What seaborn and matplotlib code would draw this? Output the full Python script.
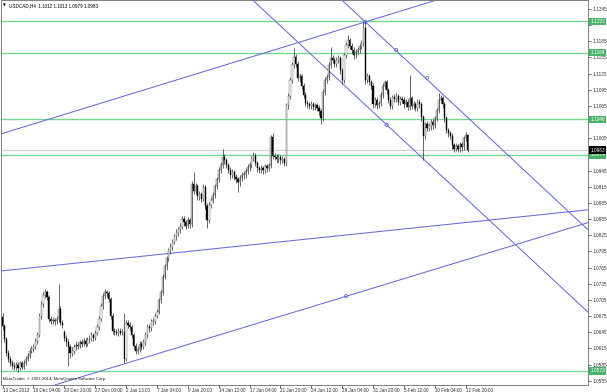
import matplotlib
matplotlib.use("Agg")
import matplotlib.pyplot as plt
from matplotlib.transforms import blended_transform_factory
import seaborn as sns
import pandas as pd

# ---------------- data (USDCAD, H4) ----------------
opens = [
    1.0674, 1.0657, 1.0633, 1.0607, 1.0596, 1.0588, 1.0583, 1.0581, 1.0585, 1.0579,
    1.0587, 1.0581, 1.0588, 1.0596, 1.0601, 1.0611, 1.0614, 1.0618, 1.0629, 1.0640,
    1.0676, 1.0698, 1.0715, 1.0720, 1.0711, 1.0670, 1.0666, 1.0668, 1.0665, 1.0670,
    1.0689, 1.0663, 1.0645, 1.0635, 1.0627, 1.0618, 1.0607, 1.0611, 1.0618, 1.0622,
    1.0620, 1.0626, 1.0624, 1.0629, 1.0624, 1.0631, 1.0633, 1.0639, 1.0635, 1.0644,
    1.0655, 1.0670, 1.0694, 1.0713, 1.0720, 1.0717, 1.0707, 1.0676, 1.0648, 1.0646,
    1.0644, 1.0648, 1.0644, 1.0646, 1.0596, 1.0663, 1.0659, 1.0655, 1.0639, 1.0620,
    1.0611, 1.0614, 1.0624, 1.0618, 1.0627, 1.0640, 1.0655, 1.0652, 1.0665, 1.0666,
    1.0676, 1.0683, 1.0704, 1.0719, 1.0748, 1.0767, 1.0782, 1.0797, 1.0804, 1.0813,
    1.0823, 1.0830, 1.0836, 1.0841, 1.0856, 1.0849, 1.0843, 1.0853, 1.0845, 1.0921,
    1.0908, 1.0916, 1.0897, 1.0901, 1.0893, 1.0914, 1.0880, 1.0853, 1.0882, 1.0890,
    1.0899, 1.0916, 1.0929, 1.0946, 1.0955, 1.0970, 1.0964, 1.0955, 1.0946, 1.0936,
    1.0942, 1.0934, 1.0929, 1.0923, 1.0931, 1.0936, 1.0938, 1.0944, 1.0951, 1.0955,
    1.0968, 1.0973, 1.0959, 1.0949, 1.0946, 1.0949, 1.0946, 1.0953, 1.0949, 1.0955,
    1.1007, 1.0972, 1.0970, 1.0966, 1.0970, 1.0964, 1.0966, 1.0959, 1.1066, 1.1083,
    1.1113, 1.1141, 1.1156, 1.1143, 1.1117, 1.1120, 1.1102, 1.1085, 1.1070, 1.1068,
    1.1065, 1.1068, 1.1063, 1.1066, 1.1061, 1.1055, 1.1042, 1.1091, 1.1113, 1.1118,
    1.1141, 1.1154, 1.1150, 1.1143, 1.1150, 1.1154, 1.1131, 1.1113, 1.1159, 1.1178,
    1.1187, 1.1176, 1.1169, 1.1159, 1.1165, 1.1169, 1.1176, 1.1182, 1.1210, 1.1113,
    1.1120, 1.1109, 1.1102, 1.1068, 1.1076, 1.1066, 1.1070, 1.1085, 1.1102, 1.1109,
    1.1094, 1.1076, 1.1065, 1.1081, 1.1078, 1.1083, 1.1072, 1.1078, 1.1076, 1.1068,
    1.1072, 1.1063, 1.1079, 1.1065, 1.1068, 1.1061, 1.1072, 1.1068, 1.1044, 1.1009,
    1.1031, 1.1024, 1.1027, 1.1035, 1.1029, 1.1042, 1.1057, 1.1076, 1.1079, 1.1068,
    1.1042, 1.1020, 1.1014, 1.1009, 1.0992, 1.0986, 1.0990, 1.0985, 1.0994, 1.0988,
    1.1005, 1.1012,
]
closes = [
    1.0657, 1.0633, 1.0607, 1.0596, 1.0588, 1.0583, 1.0581, 1.0585, 1.0579, 1.0587,
    1.0581, 1.0588, 1.0596, 1.0601, 1.0611, 1.0614, 1.0618, 1.0629, 1.0640, 1.0676,
    1.0698, 1.0715, 1.0720, 1.0711, 1.0670, 1.0666, 1.0668, 1.0665, 1.0670, 1.0689,
    1.0663, 1.0659, 1.0635, 1.0627, 1.0618, 1.0607, 1.0611, 1.0618, 1.0622, 1.0620,
    1.0626, 1.0624, 1.0629, 1.0624, 1.0631, 1.0633, 1.0639, 1.0635, 1.0644, 1.0655,
    1.0670, 1.0694, 1.0713, 1.0720, 1.0717, 1.0707, 1.0676, 1.0648, 1.0646, 1.0644,
    1.0648, 1.0644, 1.0646, 1.0596, 1.0663, 1.0659, 1.0655, 1.0639, 1.0620, 1.0611,
    1.0614, 1.0624, 1.0618, 1.0627, 1.0640, 1.0655, 1.0652, 1.0665, 1.0666, 1.0676,
    1.0683, 1.0704, 1.0719, 1.0748, 1.0767, 1.0782, 1.0797, 1.0804, 1.0813, 1.0823,
    1.0830, 1.0836, 1.0841, 1.0856, 1.0849, 1.0843, 1.0853, 1.0845, 1.0921, 1.0908,
    1.0916, 1.0897, 1.0901, 1.0893, 1.0914, 1.0880, 1.0853, 1.0882, 1.0890, 1.0899,
    1.0916, 1.0929, 1.0946, 1.0955, 1.0970, 1.0964, 1.0955, 1.0946, 1.0936, 1.0942,
    1.0934, 1.0929, 1.0923, 1.0931, 1.0936, 1.0938, 1.0944, 1.0951, 1.0955, 1.0968,
    1.0973, 1.0959, 1.0949, 1.0946, 1.0949, 1.0946, 1.0953, 1.0949, 1.0955, 1.1007,
    1.0972, 1.0970, 1.0966, 1.0970, 1.0964, 1.0966, 1.0959, 1.1066, 1.1083, 1.1113,
    1.1141, 1.1156, 1.1143, 1.1117, 1.1120, 1.1102, 1.1085, 1.1070, 1.1068, 1.1065,
    1.1068, 1.1063, 1.1066, 1.1061, 1.1055, 1.1042, 1.1091, 1.1113, 1.1118, 1.1141,
    1.1154, 1.1150, 1.1143, 1.1150, 1.1154, 1.1131, 1.1113, 1.1159, 1.1178, 1.1187,
    1.1176, 1.1169, 1.1159, 1.1165, 1.1169, 1.1176, 1.1182, 1.1210, 1.1113, 1.1120,
    1.1109, 1.1102, 1.1068, 1.1076, 1.1066, 1.1070, 1.1085, 1.1102, 1.1109, 1.1094,
    1.1076, 1.1065, 1.1081, 1.1078, 1.1083, 1.1072, 1.1078, 1.1076, 1.1068, 1.1072,
    1.1063, 1.1079, 1.1065, 1.1068, 1.1061, 1.1072, 1.1068, 1.1044, 1.1009, 1.1031,
    1.1024, 1.1027, 1.1035, 1.1029, 1.1042, 1.1057, 1.1076, 1.1079, 1.1068, 1.1042,
    1.1020, 1.1014, 1.1009, 1.0992, 1.0986, 1.0990, 1.0985, 1.0994, 1.0988, 1.1005,
    1.1012, 1.0983,
]
highs = [
    1.0680, 1.0661, 1.0636, 1.0612, 1.0600, 1.0593, 1.0589, 1.0590, 1.0590, 1.0592,
    1.0591, 1.0593, 1.0600, 1.0606, 1.0616, 1.0620, 1.0624, 1.0634, 1.0646, 1.0681,
    1.0703, 1.0719, 1.0726, 1.0724, 1.0714, 1.0675, 1.0673, 1.0672, 1.0676, 1.0735,
    1.0693, 1.0667, 1.0650, 1.0640, 1.0632, 1.0623, 1.0617, 1.0623, 1.0628, 1.0627,
    1.0631, 1.0632, 1.0635, 1.0634, 1.0637, 1.0639, 1.0645, 1.0644, 1.0649, 1.0660,
    1.0676, 1.0699, 1.0718, 1.0726, 1.0724, 1.0721, 1.0711, 1.0680, 1.0653, 1.0651,
    1.0653, 1.0652, 1.0651, 1.0680, 1.0668, 1.0667, 1.0664, 1.0659, 1.0643, 1.0625,
    1.0619, 1.0629, 1.0628, 1.0632, 1.0645, 1.0660, 1.0660, 1.0670, 1.0672, 1.0681,
    1.0689, 1.0709, 1.0724, 1.0753, 1.0772, 1.0787, 1.0802, 1.0810, 1.0818, 1.0828,
    1.0836, 1.0841, 1.0847, 1.0861, 1.0860, 1.0854, 1.0858, 1.0857, 1.0926, 1.0942,
    1.0922, 1.0920, 1.0907, 1.0906, 1.0920, 1.0918, 1.0885, 1.0887, 1.0896, 1.0905,
    1.0921, 1.0934, 1.0951, 1.0961, 1.0986, 1.0976, 1.0968, 1.0960, 1.0951, 1.0948,
    1.0947, 1.0939, 1.0934, 1.0936, 1.0942, 1.0944, 1.0949, 1.0957, 1.0961, 1.0973,
    1.0979, 1.0977, 1.0963, 1.0954, 1.0955, 1.0954, 1.0958, 1.0957, 1.0960, 1.1012,
    1.1014, 1.0977, 1.0975, 1.0976, 1.0974, 1.0972, 1.0970, 1.1071, 1.1089, 1.1118,
    1.1147, 1.1172, 1.1161, 1.1148, 1.1126, 1.1125, 1.1107, 1.1090, 1.1076, 1.1073,
    1.1074, 1.1072, 1.1071, 1.1070, 1.1066, 1.1060, 1.1096, 1.1118, 1.1124, 1.1146,
    1.1174, 1.1160, 1.1155, 1.1156, 1.1160, 1.1158, 1.1136, 1.1164, 1.1183, 1.1197,
    1.1192, 1.1181, 1.1174, 1.1171, 1.1175, 1.1181, 1.1188, 1.1221, 1.1220, 1.1126,
    1.1125, 1.1114, 1.1107, 1.1082, 1.1081, 1.1075, 1.1090, 1.1108, 1.1114, 1.1113,
    1.1099, 1.1081, 1.1086, 1.1087, 1.1089, 1.1088, 1.1083, 1.1084, 1.1081, 1.1078,
    1.1077, 1.1122, 1.1084, 1.1074, 1.1073, 1.1077, 1.1078, 1.1073, 1.1049, 1.1036,
    1.1037, 1.1033, 1.1040, 1.1040, 1.1047, 1.1062, 1.1089, 1.1086, 1.1084, 1.1073,
    1.1047, 1.1025, 1.1019, 1.1014, 1.0997, 1.0996, 1.0995, 1.0999, 1.0999, 1.1010,
    1.1017, 1.1013,
]
lows = [
    1.0650, 1.0626, 1.0600, 1.0590, 1.0582, 1.0576, 1.0574, 1.0575, 1.0572, 1.0575,
    1.0576, 1.0577, 1.0584, 1.0591, 1.0597, 1.0606, 1.0609, 1.0613, 1.0624, 1.0636,
    1.0670, 1.0692, 1.0709, 1.0705, 1.0664, 1.0660, 1.0661, 1.0659, 1.0660, 1.0664,
    1.0658, 1.0653, 1.0629, 1.0620, 1.0583, 1.0598, 1.0601, 1.0605, 1.0612, 1.0614,
    1.0615, 1.0618, 1.0619, 1.0618, 1.0619, 1.0625, 1.0628, 1.0629, 1.0630, 1.0639,
    1.0650, 1.0665, 1.0688, 1.0707, 1.0710, 1.0701, 1.0670, 1.0642, 1.0640, 1.0639,
    1.0638, 1.0639, 1.0639, 1.0588, 1.0592, 1.0652, 1.0649, 1.0634, 1.0614, 1.0604,
    1.0605, 1.0609, 1.0612, 1.0613, 1.0622, 1.0635, 1.0646, 1.0647, 1.0659, 1.0661,
    1.0671, 1.0678, 1.0699, 1.0714, 1.0743, 1.0761, 1.0777, 1.0791, 1.0798, 1.0808,
    1.0817, 1.0824, 1.0830, 1.0836, 1.0843, 1.0837, 1.0838, 1.0839, 1.0841, 1.0902,
    1.0902, 1.0891, 1.0891, 1.0887, 1.0888, 1.0874, 1.0839, 1.0848, 1.0876, 1.0885,
    1.0894, 1.0911, 1.0924, 1.0940, 1.0950, 1.0958, 1.0949, 1.0940, 1.0930, 1.0931,
    1.0928, 1.0922, 1.0905, 1.0917, 1.0926, 1.0930, 1.0932, 1.0939, 1.0945, 1.0950,
    1.0962, 1.0953, 1.0943, 1.0940, 1.0941, 1.0939, 1.0941, 1.0943, 1.0944, 1.0950,
    1.0966, 1.0964, 1.0960, 1.0961, 1.0958, 1.0959, 1.0953, 1.0953, 1.1060, 1.1078,
    1.1108, 1.1135, 1.1137, 1.1111, 1.1110, 1.1096, 1.1079, 1.1064, 1.1062, 1.1059,
    1.1060, 1.1057, 1.1058, 1.1055, 1.1049, 1.1031, 1.1037, 1.1086, 1.1107, 1.1113,
    1.1136, 1.1144, 1.1137, 1.1138, 1.1145, 1.1125, 1.1105, 1.1108, 1.1154, 1.1172,
    1.1170, 1.1163, 1.1153, 1.1154, 1.1160, 1.1164, 1.1171, 1.1177, 1.1106, 1.1107,
    1.1103, 1.1096, 1.1061, 1.1063, 1.1060, 1.1061, 1.1065, 1.1080, 1.1096, 1.1088,
    1.1070, 1.1059, 1.1060, 1.1072, 1.1073, 1.1066, 1.1067, 1.1070, 1.1062, 1.1063,
    1.1057, 1.1058, 1.1059, 1.1060, 1.1055, 1.1056, 1.1062, 1.1038, 1.0964, 1.1003,
    1.1018, 1.1018, 1.1021, 1.1023, 1.1024, 1.1037, 1.1052, 1.1070, 1.1062, 1.1036,
    1.1014, 1.1008, 1.1003, 1.0986, 1.0980, 1.0981, 1.0979, 1.0980, 1.0982, 1.0983,
    1.1000, 1.0979,
]

date_labels = ["13 Dec 2013", "18 Dec 04:00", "20 Dec 20:00", "27 Dec 00:00",
               "2 Jan 13:00", "7 Jan 04:00", "9 Jan 20:00", "14 Jan 12:00",
               "17 Jan 04:00", "21 Jan 20:00", "24 Jan 12:00", "29 Jan 04:00",
               "31 Jan 20:00", "5 Feb 12:00", "10 Feb 04:00", "12 Feb 20:00"]
date_label_bars = [0, 16, 32, 48, 64, 80, 96, 112, 128, 144, 160, 176, 192, 208, 224, 240]

price_ticks = [1.1245, 1.1215, 1.1185, 1.1155, 1.1125, 1.1095, 1.1065, 1.1035,
               1.1005, 1.0975, 1.0945, 1.0915, 1.0885, 1.0855, 1.0825, 1.0795,
               1.0765, 1.0735, 1.0705, 1.0675, 1.0645, 1.0615, 1.0585, 1.0555]
# tick labels that sit under a price tag on the right axis
hidden_tick_labels = [1.1215, 1.1035, 1.0975]

level_prices = [1.1222, 1.1164, 1.1040, 1.0974, 1.0573]
current_price = 1.0983

# trend lines: two anchor points each (bar index, price)
trend_bars = [(0, 188), (188, 220), (146, 200), (0, 300), (50, 105)]
trend_prices = [(1.1014, 1.1221), (1.1221, 1.1114), (1.1207, 1.1027),
                (1.0759, 1.0871), (1.0572, 1.0632)]
marker_bars = [188, 204, 220, 199, 178]
marker_prices = [1.1221, 1.1169, 1.1117, 1.1030, 1.0712]

title_text = "USDCAD,H4  1.1012 1.1013 1.0979 1.0983"
copyright_text = "MetaTrader, \u00a9 2001-2014, MetaQuotes Software Corp."

# ---------------- drawing ----------------
sns.set_theme(style="white")
plt.rcParams['font.family'] = ['Liberation Sans', 'DejaVu Sans']

W, H = 607, 392
fig = plt.figure(figsize=(W / 100, H / 100), dpi=100)
fig.patch.set_facecolor("white")
ax = fig.add_axes([1 / W, 7 / H, 587 / W, 385 / H])
ax.set_facecolor("white")

df = pd.DataFrame({"bar": range(len(closes)), "open": opens, "high": highs,
                   "low": lows, "close": closes})
df["bull"] = df["close"] >= df["open"]

green = "#74d88c"
blue = "#6a6ae0"

# horizontal levels
for lp in level_prices:
    ax.axhline(lp, color=green, lw=0.95, zorder=1)
ax.axhline(current_price, color="#cfcfcf", lw=0.8, zorder=1)

# trend lines
for (b0, b1), (p0, p1) in zip(trend_bars, trend_prices):
    ax.axline((b0, p0), (b1, p1), color=blue, lw=0.75, zorder=2)
sns.scatterplot(x=marker_bars, y=marker_prices, ax=ax, s=5, marker="o",
                facecolor="none", edgecolor=blue, linewidth=0.6, zorder=3, legend=False)

# candles
ax.vlines(df["bar"], df["low"], df["high"], color="#2a2a2a", lw=0.5, zorder=4)
bodies_bottom = df[["open", "close"]].min(axis=1)
bodies_height = (df["close"] - df["open"]).abs().clip(lower=0.00008)
ax.bar(df["bar"], bodies_height, bottom=bodies_bottom, width=0.62,
       color=["white" if b else "black" for b in df["bull"]],
       edgecolor=["#555555" if b else "black" for b in df["bull"]],
       linewidth=0.3, zorder=5)

ax.set_xlim(-0.8, 303.4)
ax.set_ylim(1.0547, 1.12617)

# axes styling
for s in ax.spines.values():
    s.set_color("#7f7f7f")
    s.set_linewidth(0.7)
ax.yaxis.tick_right()
ax.set_yticks(price_ticks)
ax.set_yticklabels(["" if p in hidden_tick_labels else f"{p:.4f}" for p in price_ticks])
ax.tick_params(axis="y", which="both", right=True, left=False, length=1.8, width=0.5,
               pad=1.2, labelsize=3.4, colors="#303030")
ax.set_xticks(date_label_bars)
ax.set_xticklabels(date_labels)
for t in ax.get_xticklabels():
    t.set_ha("left")
ax.tick_params(axis="x", which="both", bottom=True, length=1.8, width=0.5,
               pad=0.6, labelsize=3.3, colors="#303030")
ax.grid(False)

# price tags on the right axis
tr = blended_transform_factory(ax.transAxes, ax.transData)
for lp in level_prices:
    ax.text(1.004, lp, f"{lp:.4f}", transform=tr, fontsize=3.4, color="white",
            va="center", ha="left", clip_on=False, zorder=10,
            bbox=dict(boxstyle="square,pad=0.25", fc="#4cb46a", ec="#4cb46a", lw=0))
ax.text(1.004, current_price, f"{current_price:.4f}", transform=tr, fontsize=3.4,
        color="white", va="center", ha="left", clip_on=False, zorder=11,
        bbox=dict(boxstyle="square,pad=0.25", fc="black", ec="black", lw=0))

# header and footer texts
ax.text(0.004, 0.986, "\u25bc", transform=ax.transAxes, fontsize=2.6,
        family=["DejaVu Sans"], va="center", ha="left", color="black")
ax.text(0.014, 0.986, title_text, transform=ax.transAxes, fontsize=3.3,
        va="center", ha="left", color="black")
ax.text(0.004, 0.016, copyright_text, transform=ax.transAxes, fontsize=3.1,
        va="center", ha="left", color="#202020")

fig.savefig("out.png", dpi=100, facecolor="white")
